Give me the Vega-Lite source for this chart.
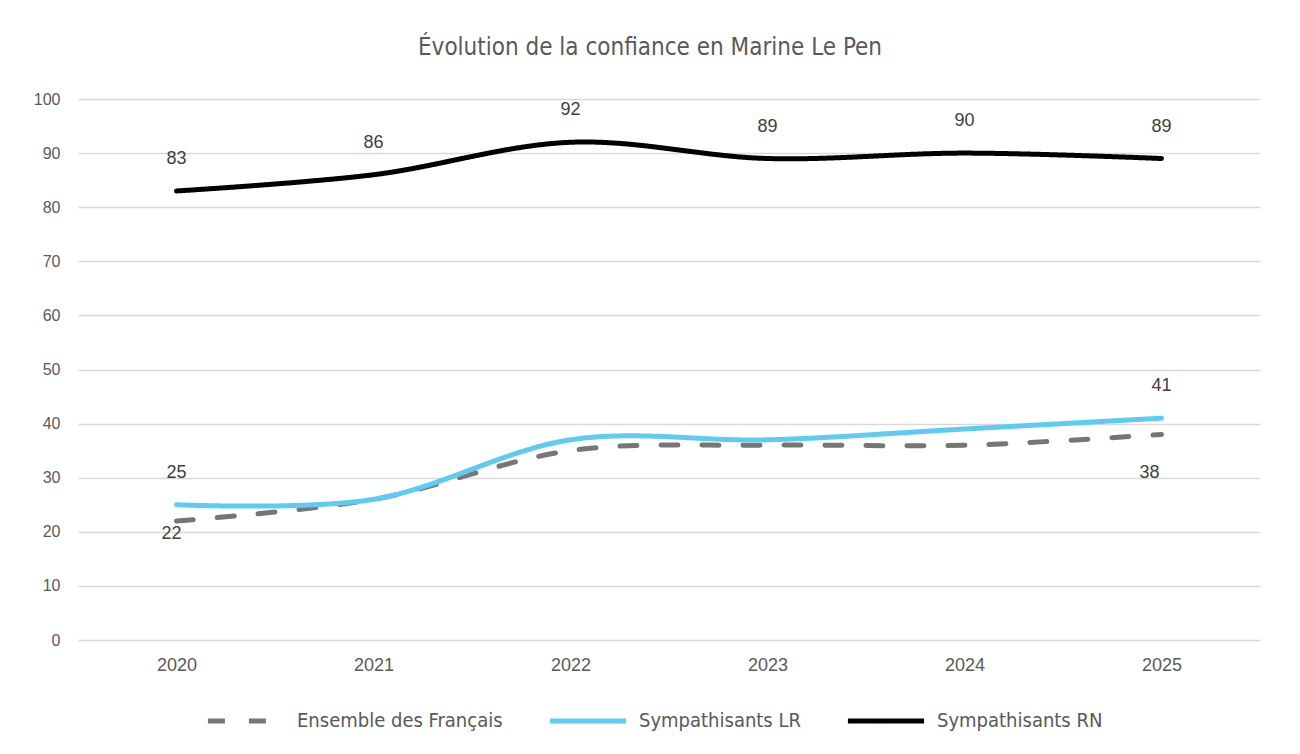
{
  "$schema": "https://vega.github.io/schema/vega-lite/v6.json",
  "autosize": "none",
  "width": 1182,
  "height": 541,
  "padding": {"left": 78, "top": 99, "right": 40, "bottom": 114},
  "background": "white",
  "title": {
    "text": "Évolution de la confiance en Marine Le Pen",
    "font": "Liberation Sans Narrow, DejaVu Sans Condensed, Roboto",
    "fontSize": 24,
    "fontWeight": "normal",
    "color": "#595959",
    "offset": 31,
    "dx": -19
  },
  "data": {
    "values": [
      {"year": "2020", "series": "Ensemble des Français", "value": 22},
      {"year": "2021", "series": "Ensemble des Français", "value": 26},
      {"year": "2022", "series": "Ensemble des Français", "value": 35},
      {"year": "2023", "series": "Ensemble des Français", "value": 36},
      {"year": "2024", "series": "Ensemble des Français", "value": 36},
      {"year": "2025", "series": "Ensemble des Français", "value": 38},
      {"year": "2020", "series": "Sympathisants LR", "value": 25},
      {"year": "2021", "series": "Sympathisants LR", "value": 26},
      {"year": "2022", "series": "Sympathisants LR", "value": 37},
      {"year": "2023", "series": "Sympathisants LR", "value": 37},
      {"year": "2024", "series": "Sympathisants LR", "value": 39},
      {"year": "2025", "series": "Sympathisants LR", "value": 41},
      {"year": "2020", "series": "Sympathisants RN", "value": 83},
      {"year": "2021", "series": "Sympathisants RN", "value": 86},
      {"year": "2022", "series": "Sympathisants RN", "value": 92},
      {"year": "2023", "series": "Sympathisants RN", "value": 89},
      {"year": "2024", "series": "Sympathisants RN", "value": 90},
      {"year": "2025", "series": "Sympathisants RN", "value": 89}
    ]
  },
  "encoding": {
    "x": {
      "field": "year",
      "type": "ordinal",
      "scale": {"type": "point", "padding": 0.5},
      "axis": {
        "title": null,
        "labelAngle": 0,
        "domain": false,
        "ticks": false,
        "grid": false,
        "labelFont": "Liberation Sans",
        "labelFontSize": 18,
        "labelColor": "#595959",
        "labelPadding": 16
      }
    },
    "y": {
      "field": "value",
      "type": "quantitative",
      "scale": {"domain": [0, 100], "nice": false},
      "axis": {
        "title": null,
        "values": [0, 10, 20, 30, 40, 50, 60, 70, 80, 90, 100],
        "domain": false,
        "ticks": false,
        "gridColor": "#d9d9d9",
        "gridWidth": 1.5,
        "labelFont": "Liberation Sans",
        "labelFontSize": 16,
        "labelColor": "#595959",
        "labelPadding": 18
      }
    }
  },
  "layer": [
    {
      "mark": {"type": "line", "interpolate": "cardinal", "strokeWidth": 5, "strokeCap": "round"},
      "encoding": {
        "color": {
          "field": "series",
          "type": "nominal",
          "scale": {
            "domain": ["Ensemble des Français", "Sympathisants LR", "Sympathisants RN"],
            "range": ["#767676", "#5ECBF3", "#000000"]
          },
          "legend": {
            "title": null,
            "orient": "none",
            "legendX": 127,
            "legendY": 581,
            "direction": "horizontal",
            "symbolType": "stroke",
            "symbolSize": 5800,
            "symbolStrokeWidth": 5,
            "labelFont": "Liberation Sans Narrow, DejaVu Sans Condensed, Roboto",
            "labelFontSize": 20,
            "labelColor": "#595959",
            "labelOffset": 10,
            "columnPadding": 36,
            "labelLimit": 400
          }
        },
        "strokeDash": {
          "field": "series",
          "type": "nominal",
          "scale": {
            "domain": ["Ensemble des Français", "Sympathisants LR", "Sympathisants RN"],
            "range": [[17, 24], [1, 0], [1, 0]]
          },
          "legend": null
        }
      }
    },
    {
      "transform": [
        {"filter": "datum.series == 'Sympathisants RN' || (datum.series == 'Sympathisants LR' && (datum.year == '2020' || datum.year == '2025'))"}
      ],
      "mark": {"type": "text", "dy": -32, "font": "Liberation Sans", "fontSize": 18, "color": "#404040"},
      "encoding": {"text": {"field": "value", "type": "quantitative"}}
    },
    {
      "transform": [
        {"filter": "datum.series == 'Ensemble des Français' && datum.year == '2020'"}
      ],
      "mark": {"type": "text", "dy": 13, "dx": -5, "font": "Liberation Sans", "fontSize": 18, "color": "#404040"},
      "encoding": {"text": {"field": "value", "type": "quantitative"}}
    },
    {
      "transform": [
        {"filter": "datum.series == 'Ensemble des Français' && datum.year == '2025'"}
      ],
      "mark": {"type": "text", "dy": 39, "dx": -12, "font": "Liberation Sans", "fontSize": 18, "color": "#404040"},
      "encoding": {"text": {"field": "value", "type": "quantitative"}}
    }
  ],
  "config": {
    "view": {"stroke": null}
  }
}
